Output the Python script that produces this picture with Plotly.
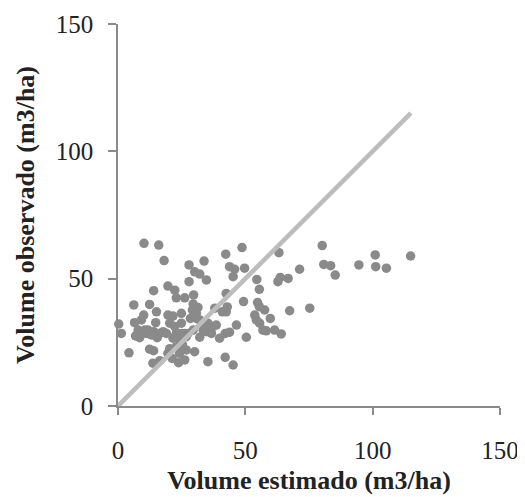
import plotly.graph_objects as go

x_est = [10.2, 16.0, 18.1, 14.0, 12.4, 6.2, 10.1, 9.2, 6.5, 14.8, 15.1, 0.3, 1.3, 6.9, 8.5, 11.8,
         14.0, 15.4, 4.3, 12.4, 14.0, 13.7, 16.4, 19.6, 22.3, 22.9, 19.6, 21.6, 20.3, 19.0, 21.6,
         19.6, 21.3, 24.2, 23.8, 26.2, 24.9, 26.2, 27.9, 27.9, 29.7, 29.5, 29.2, 31.4, 28.4, 30.8,
         30.1, 30.1, 32.1, 33.8, 34.7, 32.1, 33.4, 35.3, 35.3, 37.3, 38.6, 38.0, 39.9, 41.0, 42.5,
         42.9, 42.5, 42.3, 43.8, 45.8, 45.2, 42.1, 43.8, 46.5, 42.1, 45.2, 48.7, 49.7, 49.3, 50.4,
         54.5, 55.5, 54.8, 55.5, 53.7, 54.3, 55.6, 56.9, 57.6, 58.2, 59.8, 61.5, 64.1, 63.2, 62.8,
         63.7, 66.8, 67.4, 71.3, 75.3, 80.2, 80.8, 83.5, 85.3, 94.6, 101.0, 101.2, 105.4, 114.9,
         10.5, 7.9, 16.4, 17.7, 22.9, 24.9, 26.2, 27.5, 24.3, 26.8, 29.5, 34.7, 36.7, 24.9, 22.3,
         32.1, 30.8, 20.3, 22.9, 25.3, 26.8, 11.1, 13.1, 35.3, 34.0]
y_obs = [63.9, 63.2, 57.1, 45.3, 39.9, 39.7, 35.7, 33.8, 32.7, 32.7, 37.0, 32.2, 28.5, 27.5, 26.8, 29.8,
         29.2, 26.8, 20.9, 22.3, 21.7, 16.8, 17.8, 47.1, 45.5, 42.5, 35.7, 35.3, 32.5, 28.5, 26.6,
         20.7, 18.7, 20.7, 17.0, 18.1, 36.4, 42.5, 48.8, 55.4, 43.6, 40.1, 37.7, 38.7, 34.4, 34.4,
         21.3, 52.7, 51.8, 56.9, 49.5, 27.0, 29.8, 17.4, 30.5, 31.2, 31.8, 38.4, 26.6, 37.0, 37.0,
         38.9, 44.2, 59.6, 54.7, 53.7, 50.8, 28.5, 29.0, 31.8, 19.1, 16.1, 62.2, 54.1, 41.0, 27.0,
         49.7, 45.8, 40.6, 39.0, 35.7, 33.8, 32.5, 29.8, 37.7, 29.5, 34.4, 29.8, 28.3, 60.2, 48.8,
         50.5, 50.1, 37.4, 53.7, 38.4, 63.0, 55.6, 55.1, 51.4, 55.4, 59.3, 54.7, 54.1, 58.9,
         29.8, 29.8, 28.5, 29.2, 28.5, 28.5, 28.5, 28.5, 25.9, 27.2, 29.8, 29.2, 28.5, 32.5, 31.2,
         33.8, 36.4, 22.5, 23.3, 24.0, 22.0, 28.5, 27.9, 32.5, 31.8]

line_x = [0, 115]
line_y = [0, 115]

x_ticks = [0, 50, 100, 150]
y_ticks = [0, 50, 100, 150]

font_family = "Liberation Serif, Times New Roman, serif"

fig = go.Figure()
fig.add_trace(go.Scatter(x=x_est, y=y_obs, mode="markers",
                         marker=dict(color="#8a8a8a", size=9.5, line=dict(width=0)),
                         showlegend=False, cliponaxis=False))
fig.add_trace(go.Scatter(x=line_x, y=line_y, mode="lines",
                         line=dict(color="#bdbdbd", width=4.5),
                         showlegend=False))

fig.update_layout(
    width=525, height=497,
    margin=dict(l=110, r=33, t=16, b=99),
    paper_bgcolor="white", plot_bgcolor="white",
    font=dict(family=font_family, color="#222222", size=25),
    xaxis=dict(range=[0, 150], tickvals=x_ticks, showgrid=False, zeroline=False,
               showline=True, linecolor="#8a8a8a", linewidth=1.5,
               ticks="outside", ticklen=7, tickcolor="#8a8a8a", tickwidth=1.5,
               ticklabelstandoff=14, automargin=False,
               tickfont=dict(size=25, family=font_family, color="#222222"),
               title=dict(text="<b>Volume estimado (m3/ha)</b>", standoff=8,
                          font=dict(size=26, family=font_family, color="#222222"))),
    yaxis=dict(range=[0, 150], tickvals=y_ticks, showgrid=False, zeroline=False,
               showline=True, linecolor="#8a8a8a", linewidth=1.5,
               ticks="outside", ticklen=8, tickcolor="#8a8a8a", tickwidth=1.5,
               ticklabelstandoff=10, automargin=False,
               tickfont=dict(size=25, family=font_family, color="#222222"),
               title=dict(text="<b>Volume observado (m3/ha)</b>", standoff=14,
                          font=dict(size=26, family=font_family, color="#222222"))),
)

fig.write_html("out.html")
